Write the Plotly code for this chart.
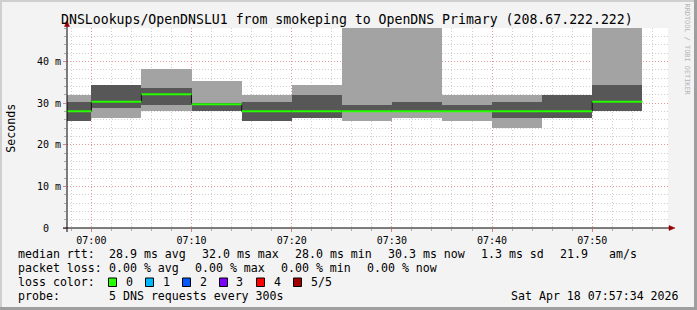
import plotly.graph_objects as go
import pandas as pd

# ---------------- data ----------------
DATE = "2026-04-18"
interval_end = ["07:00", "07:05", "07:10", "07:15", "07:20", "07:25",
                "07:30", "07:35", "07:40", "07:45", "07:50", "07:55"]
# 5 sorted DNS request times per 5-minute step (milliseconds)
ping1 = [25.6, 26.3, 28.0, 28.0, 25.6, 26.3, 25.6, 26.3, 25.6, 24.1, 26.3, 28.0]
ping2 = [25.6, 28.7, 29.6, 28.0, 25.6, 26.3, 27.9, 27.9, 27.9, 26.3, 26.3, 28.0]
median = [28.0, 30.3, 32.1, 29.7, 28.0, 28.0, 28.0, 28.0, 28.0, 28.0, 28.0, 30.3]
ping4 = [30.3, 34.4, 33.7, 30.0, 30.3, 32.0, 29.6, 30.3, 29.6, 30.3, 32.0, 34.4]
ping5 = [32.0, 34.4, 38.2, 35.4, 32.0, 34.4, 62.0, 56.0, 32.0, 32.0, 32.0, 66.0]

ytick_vals = [0, 10, 20, 30, 40]
ytick_text = ["0\u00a0\u00a0", "10 m", "20 m", "30 m", "40 m"]
xtick_text = ["07:00", "07:10", "07:20", "07:30", "07:40", "07:50"]
x_start = DATE + " 06:57:34"
x_end = DATE + " 07:57:34"

title = "DNSLookups/OpenDNSLU1 from smokeping to OpenDNS Primary (208.67.222.222)"
legend_rows = [
    [(16, "median rtt:"), (107.3, "28.9 ms avg"), (200, "32.0 ms max"), (293.3, "28.0 ms min"),
     (386, "30.3 ms now"), (479, "1.3 ms sd"), (558, "21.9"), (606.7, "am/s")],
    [(16, "packet loss:"), (107.3, "0.00 % avg"), (193.3, "0.00 % max"),
     (279.3, "0.00 % min"), (365.3, "0.00 % now")],
    [(16, "loss color:")],
    [(16, "probe:"), (107.3, "5 DNS requests every 300s")],
]
loss_labels = ["0", "1", "2", "3", "4", "5/5"]
loss_colors = ["#26ff00", "#00b8ff", "#0059ff", "#7e00ff", "#ff0000", "#a00000"]
timestamp = "Sat Apr 18 07:57:34 2026"

# ---------------- geometry helpers ----------------
W, H = 697, 310
L, R, T, B = 67, 668, 28, 228


def px(x):
    return (x - L) / (R - L)


def py(y):
    return (B - y) / (B - T)


ends = pd.to_datetime([DATE + " " + t for t in interval_end])
starts = ends - pd.Timedelta(seconds=300)
centers = ends - pd.Timedelta(seconds=150)

LIGHT = "#a3a3a3"
DARK = "#575757"
MONO = "DejaVu Sans Mono"

fig = go.Figure()

# outer smoke (lightest to highest ping)
fig.add_trace(go.Bar(
    x=centers, base=ping1, y=[b - a for a, b in zip(ping1, ping5)],
    width=300000, marker=dict(color=LIGHT, line=dict(width=0)), hoverinfo="skip"))
# inner smoke
fig.add_trace(go.Bar(
    x=centers, base=ping2, y=[b - a for a, b in zip(ping2, ping4)],
    width=300000, marker=dict(color=DARK, line=dict(width=0)), hoverinfo="skip"))

# dark step connector of the median line
step_x = list(starts) + [ends[-1]]
step_y = list(median) + [median[-1]]
fig.add_trace(go.Scatter(x=step_x, y=step_y, mode="lines",
                         line=dict(color="#111111", width=1, shape="hv"),
                         hoverinfo="skip"))

# green median segments (loss 0)
seg_x, seg_y = [], []
for s, e, m in zip(starts, ends, median):
    seg_x += [s, e, None]
    seg_y += [m, m, None]
fig.add_trace(go.Scatter(x=seg_x, y=seg_y, mode="lines",
                         line=dict(color=loss_colors[0], width=2),
                         hoverinfo="skip"))

MAJ = "rgba(240,110,110,0.55)"
MIN = "rgba(150,150,150,0.45)"

fig.update_layout(
    width=W, height=H,
    margin=dict(l=L, r=W - R, t=T, b=H - B),
    paper_bgcolor="#f3f3f3", plot_bgcolor="white",
    showlegend=False, barmode="overlay", bargap=0,
    xaxis=dict(
        type="date", range=[x_start, x_end],
        tickvals=[DATE + " " + t for t in xtick_text], ticktext=xtick_text,
        showgrid=True, gridcolor=MAJ, griddash="1px,2px", gridwidth=1,
        ticks="outside", ticklen=3, tickcolor="#e08080",
        tickfont=dict(family=MONO, size=10, color="#000"),
        minor=dict(tick0=DATE + " 07:00", dtick=120000, showgrid=True,
                   gridcolor=MIN, griddash="1px,2px", gridwidth=1,
                   ticks="outside", ticklen=2, tickcolor="#aaaaaa"),
        showline=False, zeroline=False, layer="above traces", fixedrange=True),
    yaxis=dict(
        range=[0, 48], tickvals=ytick_vals, ticktext=ytick_text,
        showgrid=True, gridcolor=MAJ, griddash="1px,2px", gridwidth=1,
        ticks="outside", ticklen=3, tickcolor="#e08080",
        tickfont=dict(family=MONO, size=10, color="#000"),
        minor=dict(tick0=0, dtick=2, showgrid=True,
                   gridcolor=MIN, griddash="1px,2px", gridwidth=1,
                   ticks="outside", ticklen=2, tickcolor="#aaaaaa"),
        showline=False, zeroline=False, layer="above traces", fixedrange=True),
)

shapes = []
# frame
shapes.append(dict(type="rect", xref="paper", yref="paper", x0=px(0), x1=px(2), y0=py(0), y1=py(H),
                   fillcolor="#cfcfcf", line=dict(width=0), layer="above"))
shapes.append(dict(type="rect", xref="paper", yref="paper", x0=px(0), x1=px(W), y0=py(0), y1=py(2),
                   fillcolor="#cfcfcf", line=dict(width=0), layer="above"))
shapes.append(dict(type="rect", xref="paper", yref="paper", x0=px(W - 3), x1=px(W), y0=py(0), y1=py(H),
                   fillcolor="#9e9e9e", line=dict(width=0), layer="above"))
shapes.append(dict(type="rect", xref="paper", yref="paper", x0=px(0), x1=px(W), y0=py(H - 3), y1=py(H),
                   fillcolor="#9e9e9e", line=dict(width=0), layer="above"))
# axes lines
shapes.append(dict(type="line", xref="paper", yref="paper", x0=px(63), x1=px(670), y0=0, y1=0,
                   line=dict(color="#000", width=1), layer="above"))
shapes.append(dict(type="line", xref="paper", yref="paper", x0=0, x1=0, y0=py(232), y1=py(25),
                   line=dict(color="#000", width=1), layer="above"))
# arrow heads
shapes.append(dict(type="path", xref="paper", yref="paper",
                   path=f"M {px(669)} {py(225.5)} L {px(675)} {py(228)} L {px(669)} {py(230.5)} Z",
                   fillcolor="#990000", line=dict(color="#990000", width=0.5), layer="above"))
shapes.append(dict(type="path", xref="paper", yref="paper",
                   path=f"M {px(64.5)} {py(26.5)} L {px(67)} {py(20.5)} L {px(69.5)} {py(26.5)} Z",
                   fillcolor="#990000", line=dict(color="#990000", width=0.5), layer="above"))

annotations = []


def text(x, y, s, size, xanchor="left", color="#000", angle=0, family=MONO):
    annotations.append(dict(xref="paper", yref="paper", x=px(x), y=py(y), text=s,
                            showarrow=False, xanchor=xanchor, yanchor="middle",
                            textangle=angle, font=dict(family=family, size=size, color=color)))


text(346.5, 19, title, 13.2, xanchor="center")
text(10.7, 128, "Seconds", 11.6, xanchor="center", angle=-90)
text(687, 49.5, "RRDTOOL / TOBI OETIKER", 6.9, xanchor="center", color="#b4b4b4", angle=90)

row_y = [254.3, 268.3, 282.3, 296.3]
for ry, row in zip(row_y, legend_rows):
    for x, s in row:
        text(x, ry, s, 11.6)
text(681, row_y[3], timestamp, 11.6, xanchor="right")

# loss colour boxes
for i, (lab, col) in enumerate(zip(loss_labels, loss_colors)):
    bx = 108.5 + 37 * i
    shapes.append(dict(type="rect", xref="paper", yref="paper",
                       x0=px(bx), x1=px(bx + 8), y0=py(278), y1=py(286.5),
                       fillcolor=col, line=dict(color="#000", width=1), layer="above"))
    text(bx + 15, row_y[2], lab, 11.6)

fig.update_layout(shapes=shapes, annotations=annotations)
fig.write_html("out.html")
